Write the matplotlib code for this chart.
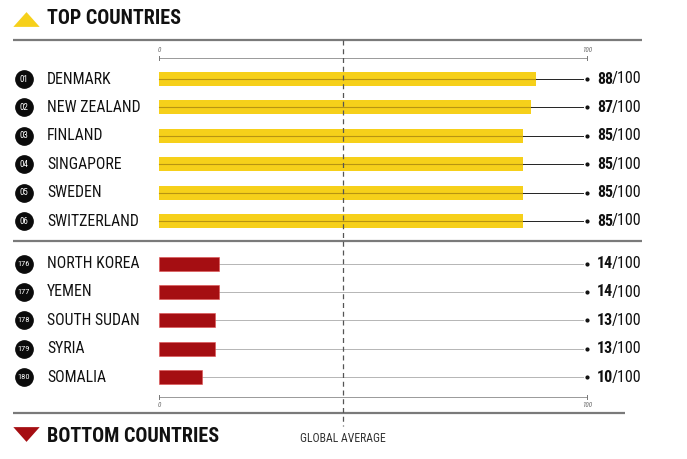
import matplotlib
matplotlib.use("Agg")
import matplotlib.pyplot as plt

plt.rcParams['font.family'] = ['Roboto Condensed', 'DejaVu Sans']

# ---- data ----
top_countries = ["DENMARK", "NEW ZEALAND", "FINLAND", "SINGAPORE", "SWEDEN", "SWITZERLAND"]
top_ranks = ["01", "02", "03", "04", "05", "06"]
top_scores = [88, 87, 85, 85, 85, 85]

bottom_countries = ["NORTH KOREA", "YEMEN", "SOUTH SUDAN", "SYRIA", "SOMALIA"]
bottom_ranks = ["176", "177", "178", "179", "180"]
bottom_scores = [14, 14, 13, 13, 10]

global_average = 43
scale_max = 100
axis_ticks = [0, 100]

YELLOW = "#F6D01A"
YELLOW_LINE = "#B89412"
RED = "#A50E12"

W, H = 687, 459
fig = plt.figure(figsize=(W / 100, H / 100), dpi=100)
ax = fig.add_axes([0, 0, 1, 1])
px_per_unit = (587 - 159) / 100.0
row_px = 28.4
ax.set_xlim(-159 / px_per_unit, (W - 159) / px_per_unit)
ax.set_ylim((H - 79) / row_px, -79 / row_px)
ax.axis("off")

def px2x(p):
    return (p - 159) / px_per_unit

def py2y(p):
    return (p - 79) / row_px

top_y = list(range(len(top_countries)))
bottom_y = [6.5 + i for i in range(len(bottom_countries))]

# separators
for yp, x1 in [(40, 642), (241, 642), (413, 625)]:
    ax.plot([px2x(13), px2x(x1)], [py2y(yp)] * 2, color="#7a7a7a", lw=1.6, solid_capstyle="butt", zorder=1)

# global average
ax.plot([global_average, global_average], [py2y(40), py2y(426)], color="#555555", lw=0.9,
        ls=(0, (4, 3)), zorder=4)
ax.text(global_average, py2y(438), "GLOBAL AVERAGE", ha="center", va="center", fontsize=8.5, color="#333333")

# scales
for yp, lab_off in [(58, -8), (397, 8)]:
    y = py2y(yp)
    ax.plot([axis_ticks[0], axis_ticks[-1]], [y, y], color="#999999", lw=0.7, zorder=1)
    for t in axis_ticks:
        ax.plot([t, t], [y - 0.06, y + 0.06], color="#777777", lw=0.7)
        ax.text(t, py2y(yp + lab_off), str(t), ha="center", va="center", fontsize=5,
                style="italic", color="#666666")

bar_h = 14 / row_px
line_end = scale_max - 1

ax.barh(top_y, top_scores, height=bar_h, color=YELLOW, zorder=2)
for y, s in zip(top_y, top_scores):
    ax.plot([0, s], [y, y], color=YELLOW_LINE, lw=0.8, zorder=3)
    ax.plot([s, line_end], [y, y], color="#222222", lw=0.7, zorder=3)

ax.barh(bottom_y, bottom_scores, height=bar_h, color=RED, edgecolor="#e05050", linewidth=0.4, zorder=2)
for y, s in zip(bottom_y, bottom_scores):
    ax.plot([s, line_end], [y, y], color="#b5b5b5", lw=0.7, zorder=1)

all_y = top_y + bottom_y
all_scores = top_scores + bottom_scores
all_names = top_countries + bottom_countries
all_ranks = top_ranks + bottom_ranks

ax.scatter([scale_max] * len(all_y), all_y, s=4, color="#111111", zorder=5)

# badges + names
ax.scatter([px2x(24)] * len(all_y), all_y, s=155, color="#0b0b0b", zorder=5)
for y, r, n in zip(all_y, all_ranks, all_names):
    ax.text(px2x(24), y, r, ha="center", va="center", fontsize=6 if len(r) > 2 else 6.5,
            color="white", zorder=6)
    ax.text(px2x(47), y, n, ha="left", va="center", fontsize=11.3, color="#111111")

# scores
for y, s in zip(all_y, all_scores):
    t = ax.text(px2x(597), y, str(s), ha="left", va="center", fontsize=11.5,
                fontweight="bold", color="#111111")
    ax.annotate("/100", xy=(1, 0), xycoords=t, xytext=(-0.8, 0), textcoords="offset points",
                ha="left", va="bottom", fontsize=11.5, color="#111111")

# headings
tri_up = [(-1, -0.56), (1, -0.56), (0, 0.56)]
tri_down = [(-1, 0.56), (1, 0.56), (0, -0.56)]
ax.scatter([px2x(26)], [py2y(19)], marker=tri_up, s=360, color=YELLOW, linewidths=0, zorder=5)
ax.text(px2x(47), py2y(19), "TOP COUNTRIES", ha="left", va="center", fontsize=14.5,
        fontweight="bold", color="#111111")
ax.scatter([px2x(26)], [py2y(434)], marker=tri_down, s=360, color=RED, linewidths=0, zorder=5)
ax.text(px2x(47), py2y(436), "BOTTOM COUNTRIES", ha="left", va="center", fontsize=14.5,
        fontweight="bold", color="#111111")

fig.savefig("out.png", dpi=100, facecolor="white")
